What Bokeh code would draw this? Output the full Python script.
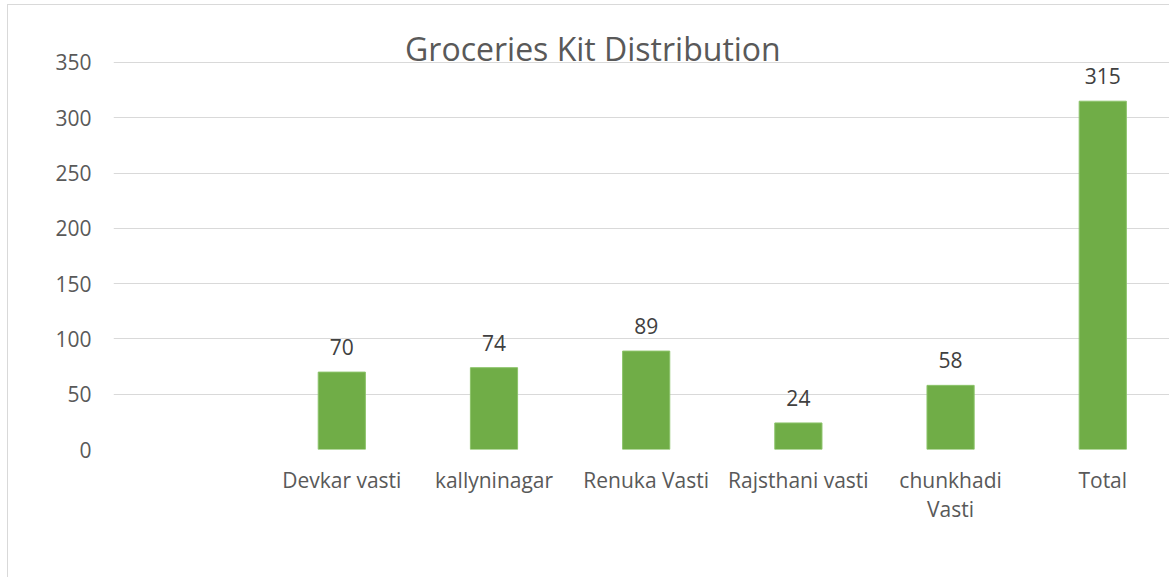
from bokeh.plotting import figure
from bokeh.models import Range1d, FixedTicker, Label, ColumnDataSource
from bokeh.core.properties import value
from bokeh.embed import file_html
from bokeh.resources import INLINE

title_text = "Groceries Kit Distribution"
categories = ["Devkar vasti", "kallyninagar", "Renuka Vasti", "Rajsthani vasti", "chunkhadi Vasti", "Total"]
values = [70, 74, 89, 24, 58, 315]
y_ticks = [0, 50, 100, 150, 200, 250, 300, 350]

FONT = "Open Sans"
W, H = 1162, 573

# one empty leading slot, then the named categories
xs = [i + 1.5 for i in range(len(categories))]
src = ColumnDataSource(dict(x=xs, top=values, label=[str(v) for v in values]))

p = figure(width=W, height=H, output_backend="svg", toolbar_location=None,
           x_range=Range1d(0, 6.945), y_range=Range1d(0, 391.6),
           min_border_left=105, min_border_right=0, min_border_top=11, min_border_bottom=129)
p.styles = {"border-left": "1px solid #d9d9d9", "border-top": "1px solid #d9d9d9",
            "margin-top": "4px", "margin-left": "7px"}
p.outline_line_color = None
p.background_fill_color = "white"
p.border_fill_color = "white"

p.vbar(x="x", top="top", width=0.31, source=src, fill_color="#70AD47",
       line_color="#8cc36a", line_width=1)
p.text(x="x", y="top", text="label", source=src, text_align="center",
       text_baseline="middle", y_offset=-25, text_font=value(FONT),
       text_font_size="21px", text_color="#404040")

p.add_layout(Label(x=3.15, y=362.7, text=title_text, text_align="center",
                   text_baseline="middle", text_font=FONT, text_font_size="32px",
                   text_color="#595959"))

p.xgrid.visible = False
p.ygrid.ticker = FixedTicker(ticks=y_ticks)
p.ygrid.grid_line_color = "#d9d9d9"
p.ygrid.grid_line_width = 1

p.yaxis.ticker = FixedTicker(ticks=y_ticks)
p.yaxis.axis_line_color = None
p.yaxis.major_tick_line_color = None
p.yaxis.minor_tick_line_color = None
p.yaxis.major_label_text_font = FONT
p.yaxis.major_label_text_font_size = "21px"
p.yaxis.major_label_text_color = "#595959"
p.yaxis.major_label_standoff = 16

p.xaxis.ticker = FixedTicker(ticks=xs)
p.xaxis.major_label_overrides = {x: c.replace("chunkhadi ", "chunkhadi\n") for x, c in zip(xs, categories)}
p.xaxis.axis_line_color = None
p.xaxis.major_tick_line_color = None
p.xaxis.minor_tick_line_color = None
p.xaxis.major_label_text_font = FONT
p.xaxis.major_label_text_font_size = "21px"
p.xaxis.major_label_text_line_height = 1.05
p.xaxis.major_label_text_color = "#595959"
p.xaxis.major_label_standoff = 10

open("out.html", "w").write(file_html(p, INLINE))
